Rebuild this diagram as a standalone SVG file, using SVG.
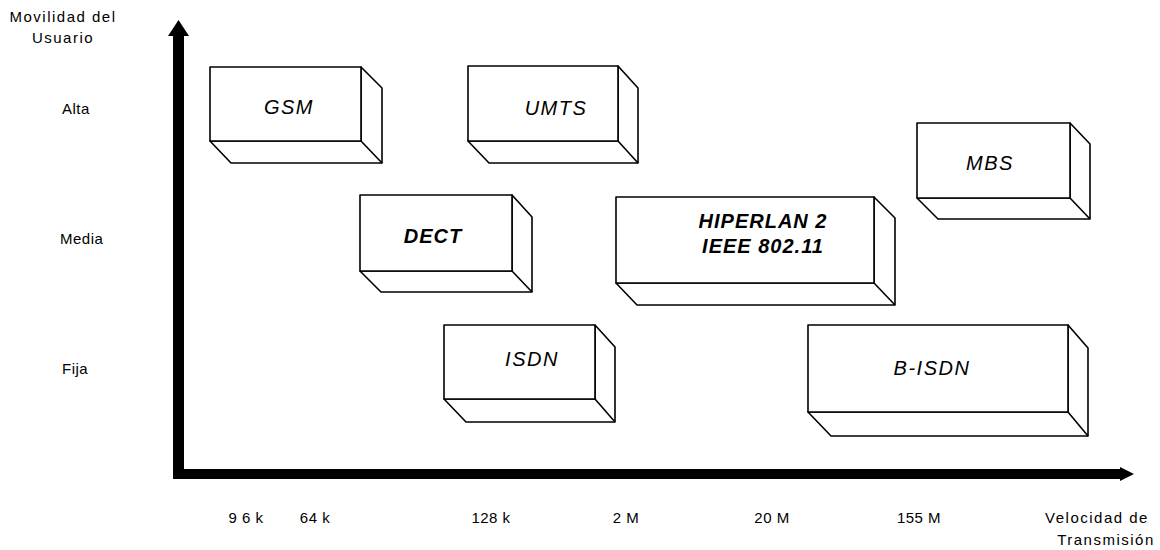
<svg xmlns="http://www.w3.org/2000/svg" width="1160" height="550" viewBox="0 0 1160 550">
<style>
.box{fill:#fff;stroke:#000;stroke-width:1.6;stroke-linejoin:round}
.edge{fill:none;stroke:#000;stroke-width:1.6}
.lbl{font-family:"Liberation Sans",Arial,sans-serif;font-style:italic;font-size:20px;letter-spacing:1.5px;fill:#000;text-anchor:middle}
.b{font-weight:bold;letter-spacing:1px}
.ax{font-family:"Liberation Sans",Arial,sans-serif;font-size:15px;letter-spacing:0.5px;fill:#000}
.w{letter-spacing:1.5px}
.c{text-anchor:middle}
</style>
<rect width="1160" height="550" fill="#fff"/>
<g id="axes">
<rect x="173" y="34" width="11" height="445" fill="#000"/>
<polygon points="168,36 178.5,20 189,36" fill="#000"/>
<rect x="173" y="469" width="950" height="10" fill="#000"/>
<polygon points="1120,467 1134,474 1120,481" fill="#000"/>
</g>
<g id="axis-labels">
<text class="ax c w" x="63" y="22">Movilidad del</text>
<text class="ax c w" x="63" y="43">Usuario</text>
<text class="ax" x="62" y="114">Alta</text>
<text class="ax" x="60" y="244">Media</text>
<text class="ax" x="62" y="374">Fija</text>
<text class="ax c" x="246" y="523">9 6 k</text>
<text class="ax c" x="315" y="523">64 k</text>
<text class="ax c" x="491" y="523">128 k</text>
<text class="ax c" x="626" y="523">2 M</text>
<text class="ax c" x="772" y="523">20 M</text>
<text class="ax c" x="919" y="523">155 M</text>
<text class="ax c w" x="1097" y="523">Velocidad de</text>
<text class="ax c w" x="1106" y="545">Transmisión</text>
</g>
<g id="gsm">
<path class="box" d="M210,141 L231,163 L382,163 L382,88 L361,67 L361,141 Z"/>
<path class="edge" d="M361,141 L382,163"/>
<rect class="box" x="210" y="67" width="151" height="74"/>
<text class="lbl" x="289" y="114">GSM</text>
</g>
<g id="umts">
<path class="box" d="M468,141 L489,163 L638,163 L638,88 L618,66 L618,141 Z"/>
<path class="edge" d="M618,141 L638,163"/>
<rect class="box" x="468" y="66" width="150" height="75"/>
<text class="lbl" x="556" y="115">UMTS</text>
</g>
<g id="mbs">
<path class="box" d="M917,198 L938,219 L1090,219 L1090,144 L1070,123 L1070,198 Z"/>
<path class="edge" d="M1070,198 L1090,219"/>
<rect class="box" x="917" y="123" width="153" height="75"/>
<text class="lbl" x="990" y="170">MBS</text>
</g>
<g id="dect">
<path class="box" d="M360,271 L381,292 L532,292 L532,217 L512,195 L512,271 Z"/>
<path class="edge" d="M512,271 L532,292"/>
<rect class="box" x="360" y="195" width="152" height="76"/>
<text class="lbl b" x="433" y="243">DECT</text>
</g>
<g id="hiperlan">
<path class="box" d="M616,283 L637,305 L895,305 L895,218 L874,197 L874,283 Z"/>
<path class="edge" d="M874,283 L895,305"/>
<rect class="box" x="616" y="197" width="258" height="86"/>
<text class="lbl b" x="763" y="228">HIPERLAN 2</text>
<text class="lbl b" x="763" y="253">IEEE 802.11</text>
</g>
<g id="isdn">
<path class="box" d="M444,399 L466,422 L615,422 L615,347 L595,325 L595,399 Z"/>
<path class="edge" d="M595,399 L615,422"/>
<rect class="box" x="444" y="325" width="151" height="74"/>
<text class="lbl" x="532" y="366">ISDN</text>
</g>
<g id="bisdn">
<path class="box" d="M808,412 L831,436 L1088,436 L1088,348 L1068,325 L1068,412 Z"/>
<path class="edge" d="M1068,412 L1088,436"/>
<rect class="box" x="808" y="325" width="260" height="87"/>
<text class="lbl" x="932" y="375">B-ISDN</text>
</g>
</svg>
